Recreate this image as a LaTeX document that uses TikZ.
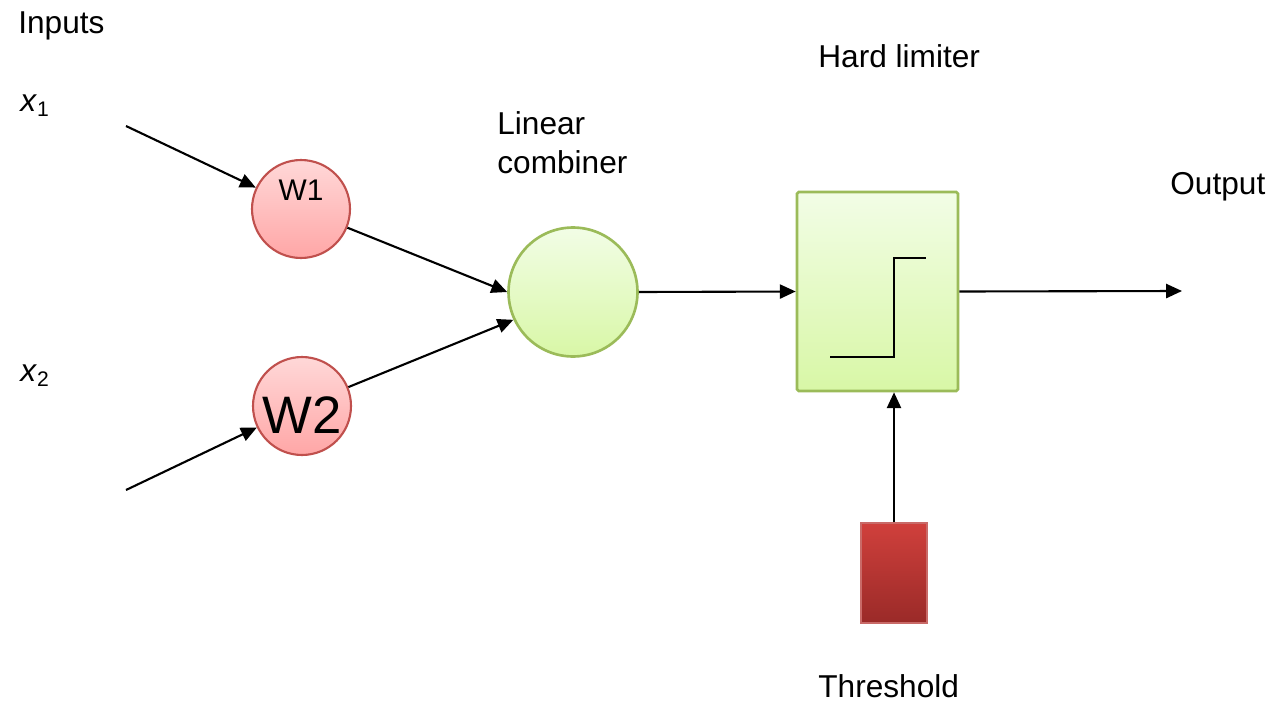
\documentclass[tikz,border=0pt]{standalone}
\usepackage{fontspec}
\setmainfont{Liberation Sans}
\usetikzlibrary{arrows.meta,calc}
\definecolor{wred}{HTML}{C0504D}
\definecolor{wtop}{HTML}{FFD8D8}
\definecolor{wbot}{HTML}{FFA6A6}
\definecolor{ggreen}{HTML}{9BBB59}
\definecolor{gtop}{HTML}{F2FDE6}
\definecolor{gbot}{HTML}{D8F7A6}
\definecolor{ttop}{HTML}{D0403C}
\definecolor{tbot}{HTML}{9A2A28}

\begin{document}
\begin{tikzpicture}[x=0.02cm,y=-0.02cm,
  font=\fontsize{18}{21}\selectfont,
  weight/.style={circle,draw=wred,line width=1.2pt,top color=wtop,bottom color=wbot,
    minimum size=1.96cm,inner sep=0pt},
  combiner/.style={circle,draw=ggreen,line width=1.5pt,top color=gtop,bottom color=gbot,
    minimum size=2.58cm,inner sep=0pt},
  limiter/.style={rectangle,draw=ggreen,line width=1.5pt,top color=gtop,bottom color=gbot,
    minimum width=3.22cm,minimum height=3.98cm,rounded corners=1pt},
  thresh/.style={rectangle,draw=wred!85,line width=1pt,top color=ttop,bottom color=tbot,
    minimum width=1.32cm,minimum height=2cm},
  txt/.style={anchor=base west,inner sep=0pt},
  conn/.style={line width=1.2pt,-{Triangle[length=9pt,width=8pt]}}]
\useasboundingbox (0,0) rectangle (1270,703);
% labels
\node[txt] (inputs) at (18,33) {Inputs};
\node[txt] (lx1) at (20,111) {\textit{x}\raisebox{-0.35ex}{\fontsize{12}{14}\selectfont 1}};
\node[txt] (lx2) at (20,381) {\textit{x}\raisebox{-0.35ex}{\fontsize{12}{14}\selectfont 2}};
\node[anchor=north west,inner sep=0pt,align=left] (lcomb) at (497,111) {Linear\\[1.5pt]combiner};
\node[txt] (lhard) at (818,67) {Hard limiter};
\node[txt] (lout) at (1170,194) {Output};
\node[txt] (lthr) at (818,697) {Threshold};
% blocks
\node[weight] (w1) at (301,209) {};
\node[anchor=base,font=\fontsize{17}{20}\selectfont] at (301,200) {W1};
\node[weight,font=\fontsize{30}{34}\selectfont] (w2) at (302,406) {};
\node[anchor=base,font=\fontsize{30}{34}\selectfont] at (302,433) {W2};
\node[combiner] (comb) at (573,292) {};
\node[limiter] (box) at (877.5,291.5) {};
\node[thresh] (thr) at (894,573) {};
% step inside the limiter
\draw[line width=1.6pt] (830,357) -- (894,357) -- (894,258) -- (926,258);
% connectors
\coordinate (in1) at (126,126);
\coordinate (in2) at (126,490);
\coordinate (out) at (1182,291);
\draw[conn] (in1) -- (w1);
\draw[conn] (in2) -- (w2);
\draw[conn] (w1) -- (comb.west);
\draw[conn] (w2) -- (comb.205);
\draw[conn] (comb.east) -- (box.west);
\draw[conn] (box.east) -- (out);
\draw[conn] (thr.north) -- (thr.north |- box.south);
\end{tikzpicture}
\end{document}
